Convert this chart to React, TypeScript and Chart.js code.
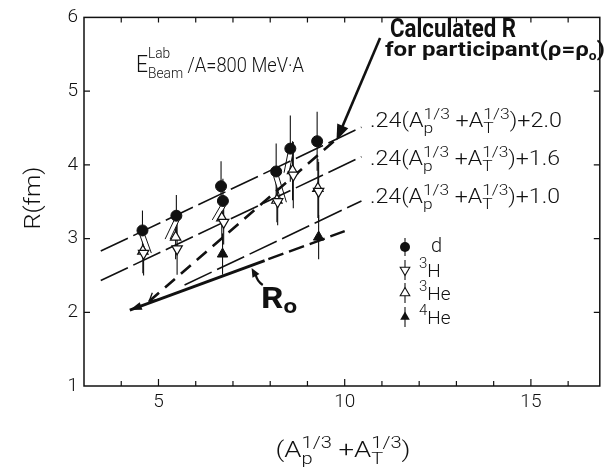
import React, { useEffect, useRef } from "react";
import { Chart, registerables } from "chart.js";

Chart.register(...registerables);

// ---- axes ----
const xMin = 3;
const xMax = 16.85;
const yMin = 1;
const yMax = 6;
const xTickLabels = [5, 10, 15];
const yTickLabels = [1, 2, 3, 4, 5, 6];
const xMinorTicks = [4, 5, 6, 7, 8, 9, 10, 11, 12, 13, 14, 15, 16];
const yMinorTicks = [2, 3, 4, 5];

// ---- data: d ----
const dX = [4.57, 5.48, 6.68, 6.73, 8.16, 8.54, 9.26];
const dY = [3.11, 3.31, 3.71, 3.51, 3.91, 4.22, 4.32];
const dErr = [0.27, 0.28, 0.34, 0.3, 0.38, 0.45, 0.4];

// ---- data: 3H ----
const h3X = [4.6, 5.5, 6.75, 8.2, 8.62, 9.3];
const h3Y = [2.8, 2.86, 3.22, 3.5, 3.86, 3.64];
const h3Err = [0.3, 0.35, 0.3, 0.32, 0.45, 0.4];

// ---- data: 3He ----
const he3X = [4.58, 5.46, 6.7, 8.18, 8.6, 9.28];
const he3Y = [2.83, 3.02, 3.28, 3.52, 3.92, 3.68];
const he3Err = [0.3, 0.3, 0.3, 0.3, 0.4, 0.4];

// ---- data: 4He ----
const he4X = [6.72, 9.3];
const he4Y = [2.79, 3.02];
const he4Err = [0.28, 0.3];

// ---- offset connectors (d point index -> 3He point index, lateral shift) ----
const connFrom = [0, 1, 3, 4, 5];
const connTo = [0, 1, 2, 3, 4];
const connShift = [6, -8, -7, 7, -6];

// ---- lines ----
const fit20X = [3.45, 10.45];
const fit20Y = [2.83, 4.51];
const fit16X = [3.45, 10.45];
const fit16Y = [2.43, 4.11];
const fit10X = [5.7, 10.45];
const fit10Y = [2.37, 3.51];
const calcX = [4.75, 9.85];
const calcY = [2.15, 4.38];
const r0X = [4.23, 7.85];
const r0Y = [2.03, 2.7];
const r0TailX = [7.95, 10.0];
const r0TailY = [2.72, 3.1];

const FONT = 'Roboto, "DejaVu Sans", sans-serif';
const W = "300";
const INK = "#111";

const pts = (xs: number[], ys: number[]) => xs.map((x, i) => ({ x, y: ys[i] }));

type Seg = { t: string; size: number; dy?: number; bold?: boolean; stack?: boolean };

function fontOf(s: Seg) {
  return `${s.bold ? "bold" : W} ${s.size}px ${FONT}`;
}

function drawRich(
  ctx: CanvasRenderingContext2D,
  segs: Seg[],
  x: number,
  y: number,
  width?: number,
  align: "left" | "center" = "left"
) {
  const ws: number[] = [];
  let total = 0;
  let pending = 0;
  segs.forEach((s) => {
    ctx.font = fontOf(s);
    const w = ctx.measureText(s.t).width;
    ws.push(w);
    if (s.stack) {
      pending = Math.max(pending, w);
    } else {
      total += Math.max(pending, w);
      pending = 0;
    }
  });
  total += pending;
  const sx = width ? width / total : 1;
  ctx.save();
  const startX = align === "center" ? x - (total * sx) / 2 : x;
  ctx.translate(startX, y);
  ctx.scale(sx, 1);
  ctx.textAlign = "left";
  ctx.textBaseline = "alphabetic";
  let cx = 0;
  let stackW = 0;
  segs.forEach((s, i) => {
    ctx.font = fontOf(s);
    ctx.fillText(s.t, cx, s.dy || 0);
    if (s.stack) {
      stackW = Math.max(stackW, ws[i]);
    } else {
      cx += Math.max(stackW, ws[i]);
      stackW = 0;
    }
  });
  ctx.restore();
}

function arrowHead(ctx: CanvasRenderingContext2D, tipX: number, tipY: number, fromX: number, fromY: number, len: number, half: number) {
  const ang = Math.atan2(tipY - fromY, tipX - fromX);
  ctx.beginPath();
  ctx.moveTo(tipX, tipY);
  ctx.lineTo(tipX - len * Math.cos(ang) + half * Math.sin(ang), tipY - len * Math.sin(ang) - half * Math.cos(ang));
  ctx.lineTo(tipX - len * Math.cos(ang) - half * Math.sin(ang), tipY - len * Math.sin(ang) + half * Math.cos(ang));
  ctx.closePath();
  ctx.fill();
}

const errorBars = {
  id: "errorBars",
  beforeDatasetsDraw(chart: any) {
    const { ctx, scales } = chart;
    const xs = scales.x;
    const ys = scales.y;
    ctx.save();
    ctx.strokeStyle = INK;
    ctx.lineWidth = 1.1;
    const groups: [number[], number[], number[]][] = [
      [dX, dY, dErr],
      [h3X, h3Y, h3Err],
      [he3X, he3Y, he3Err],
      [he4X, he4Y, he4Err],
    ];
    groups.forEach(([gx, gy, ge]) => {
      gx.forEach((v, i) => {
        const px = xs.getPixelForValue(v);
        ctx.beginPath();
        ctx.moveTo(px, ys.getPixelForValue(gy[i] + ge[i]));
        ctx.lineTo(px, ys.getPixelForValue(gy[i] - ge[i]));
        ctx.stroke();
      });
    });
    // offset connectors: narrow white ribbons joining shifted points
    ctx.lineWidth = 1;
    connFrom.forEach((di, k) => {
      const ti = connTo[k];
      const sh = connShift[k];
      const x1 = xs.getPixelForValue(dX[di]);
      const y1 = ys.getPixelForValue(dY[di]) + 5;
      const x2 = xs.getPixelForValue(he3X[ti]) + sh;
      const y2 = ys.getPixelForValue(he3Y[ti]) + 2;
      const w = 2.5;
      ctx.beginPath();
      ctx.moveTo(x1 - w, y1);
      ctx.lineTo(x2 - w, y2);
      ctx.lineTo(x2 + w, y2);
      ctx.lineTo(x1 + w, y1);
      ctx.closePath();
      ctx.fillStyle = "#fff";
      ctx.fill();
      ctx.beginPath();
      ctx.moveTo(x1 - w, y1);
      ctx.lineTo(x2 - w, y2);
      ctx.moveTo(x1 + w, y1);
      ctx.lineTo(x2 + w, y2);
      ctx.stroke();
    });
    ctx.restore();
  },
};

const decorations = {
  id: "decorations",
  afterDraw(chart: any) {
    const { ctx, chartArea: a, scales } = chart;
    const xs = scales.x;
    const ys = scales.y;
    ctx.save();
    // frame
    ctx.strokeStyle = INK;
    ctx.lineWidth = 1.5;
    ctx.strokeRect(a.left, a.top, a.right - a.left, a.bottom - a.top);
    ctx.lineWidth = 1.2;
    xMinorTicks.forEach((v) => {
      const px = xs.getPixelForValue(v);
      const major = v % 5 === 0;
      ctx.beginPath();
      ctx.moveTo(px, a.top);
      ctx.lineTo(px, a.top + 5);
      ctx.moveTo(px, a.bottom);
      ctx.lineTo(px, a.bottom - (major ? 7 : 5));
      ctx.stroke();
    });
    yMinorTicks.forEach((v) => {
      const py = ys.getPixelForValue(v);
      ctx.beginPath();
      ctx.moveTo(a.left, py);
      ctx.lineTo(a.left + 6, py);
      ctx.moveTo(a.right, py);
      ctx.lineTo(a.right - 6, py);
      ctx.stroke();
    });

    ctx.fillStyle = INK;
    ctx.strokeStyle = INK;

    // R0 left arrowhead (filled)
    {
      const tx = xs.getPixelForValue(r0X[0]);
      const ty = ys.getPixelForValue(r0Y[0]);
      const fx = xs.getPixelForValue(r0X[1]);
      const fy = ys.getPixelForValue(r0Y[1]);
      arrowHead(ctx, tx, ty, fx, fy, 12, 4);
    }
    // calculated R left open arrowhead
    {
      const tx = xs.getPixelForValue(calcX[0]);
      const ty = ys.getPixelForValue(calcY[0]);
      const fx = xs.getPixelForValue(calcX[1]);
      const fy = ys.getPixelForValue(calcY[1]);
      const ang = Math.atan2(ty - fy, tx - fx);
      ctx.lineWidth = 1.3;
      ctx.beginPath();
      ctx.moveTo(tx - 9 * Math.cos(ang - 0.5), ty - 9 * Math.sin(ang - 0.5));
      ctx.lineTo(tx, ty);
      ctx.lineTo(tx - 9 * Math.cos(ang + 0.5), ty - 9 * Math.sin(ang + 0.5));
      ctx.stroke();
    }
    // Calculated R annotation arrow
    {
      const sx = xs.getPixelForValue(10.95);
      const sy = ys.getPixelForValue(5.72);
      const tx = xs.getPixelForValue(9.78);
      const ty = ys.getPixelForValue(4.33);
      ctx.lineWidth = 2.6;
      ctx.beginPath();
      ctx.moveTo(sx, sy);
      ctx.lineTo(tx + (sx - tx) * 0.1, ty + (sy - ty) * 0.1);
      ctx.stroke();
      arrowHead(ctx, tx, ty, sx, sy, 16, 6);
    }
    // R0 annotation arrow
    {
      const sx = xs.getPixelForValue(7.8);
      const sy = ys.getPixelForValue(2.37);
      const tx = xs.getPixelForValue(7.5);
      const ty = ys.getPixelForValue(2.6);
      ctx.lineWidth = 2.2;
      ctx.beginPath();
      ctx.moveTo(sx, sy);
      ctx.quadraticCurveTo(sx - 6, sy - 4, tx + 4, ty + 6);
      ctx.stroke();
      arrowHead(ctx, tx, ty, tx + 5, ty + 9, 9, 4);
    }

    // texts
    ctx.fillStyle = INK;
    // E label
    drawRich(
      ctx,
      [
        { t: "E", size: 23 },
        { t: "Beam", size: 15, dy: 6, stack: true },
        { t: "Lab", size: 15, dy: -14 },
        { t: " /A=800 MeV·A", size: 20 },
      ],
      136,
      72,
      168
    );
    // Calculated R
    drawRich(ctx, [{ t: "Calculated R", size: 26, bold: true }], 390, 37, 126);
    drawRich(
      ctx,
      [
        { t: "for participant(ρ=ρ", size: 21, bold: true },
        { t: "o", size: 12, dy: 4, bold: true },
        { t: ")", size: 21, bold: true },
      ],
      385,
      56,
      220
    );
    // formulas
    const formula = (c: string): Seg[] => [
      { t: ".24(A", size: 20 },
      { t: "p", size: 15, dy: 6, stack: true },
      { t: "1/3", size: 15, dy: -8 },
      { t: " +A", size: 20 },
      { t: "T", size: 15, dy: 6, stack: true },
      { t: "1/3", size: 15, dy: -8 },
      { t: ")+" + c, size: 20 },
    ];
    drawRich(ctx, formula("2.0"), 370, 127, 192);
    drawRich(ctx, formula("1.6"), 370, 165, 190);
    drawRich(ctx, formula("1.0"), 370, 203, 190);

    // legend
    const lx = 405;
    const rows = [247, 270, 293, 317];
    ctx.lineWidth = 1.1;
    ctx.beginPath();
    ctx.arc(lx, rows[0], 5, 0, Math.PI * 2);
    ctx.fill();
    ctx.beginPath();
    ctx.moveTo(lx, rows[0] - 9);
    ctx.lineTo(lx, rows[0] + 9);
    ctx.stroke();
    const tri = (cy: number, up: boolean, filled: boolean) => {
      const r = 5.5;
      ctx.beginPath();
      ctx.moveTo(lx, cy - 10);
      ctx.lineTo(lx, cy + 10);
      ctx.stroke();
      ctx.beginPath();
      if (up) {
        ctx.moveTo(lx, cy - r);
        ctx.lineTo(lx + r * 0.87, cy + r * 0.5);
        ctx.lineTo(lx - r * 0.87, cy + r * 0.5);
      } else {
        ctx.moveTo(lx, cy + r);
        ctx.lineTo(lx + r * 0.87, cy - r * 0.5);
        ctx.lineTo(lx - r * 0.87, cy - r * 0.5);
      }
      ctx.closePath();
      if (filled) {
        ctx.fill();
      } else {
        ctx.save();
        ctx.fillStyle = "#fff";
        ctx.fill();
        ctx.restore();
        ctx.stroke();
      }
    };
    tri(rows[1], false, false);
    tri(rows[2], true, false);
    tri(rows[3], true, true);
    drawRich(ctx, [{ t: "d", size: 20 }], 431, rows[0] + 5);
    drawRich(ctx, [{ t: "3", size: 15, dy: -6 }, { t: "H", size: 19, dy: 3 }], 419, rows[1] + 4);
    drawRich(ctx, [{ t: "3", size: 15, dy: -6 }, { t: "He", size: 19, dy: 3 }], 419, rows[2] + 4);
    drawRich(ctx, [{ t: "4", size: 15, dy: -6 }, { t: "He", size: 19, dy: 3 }], 419, rows[3] + 4);

    // R0 label
    drawRich(
      ctx,
      [
        { t: "R", size: 29, bold: true },
        { t: "o", size: 20, dy: 5, bold: true },
      ],
      261,
      308,
      36
    );

    // axis titles
    ctx.save();
    ctx.translate(33, 198);
    ctx.rotate(-Math.PI / 2);
    drawRich(ctx, [{ t: "R(fm)", size: 22 }], 0, 7, 63, "center");
    ctx.restore();
    drawRich(
      ctx,
      [
        { t: "(A", size: 22 },
        { t: "p", size: 16, dy: 7, stack: true },
        { t: "1/3", size: 16, dy: -9 },
        { t: " +A", size: 22 },
        { t: "T", size: 16, dy: 7, stack: true },
        { t: "1/3", size: 16, dy: -9 },
        { t: ")", size: 22 },
      ],
      343,
      457,
      135,
      "center"
    );
    ctx.restore();
  },
};

export default function App() {
  const ref = useRef<HTMLCanvasElement | null>(null);
  useEffect(() => {
    if (!ref.current) return;
    const lineDs = (xs: number[], ys: number[], width: number, dash: number[]) => ({
      data: pts(xs, ys),
      showLine: true,
      borderColor: INK,
      borderWidth: width,
      borderDash: dash,
      pointRadius: 0,
      fill: false,
    });
    const chart = new Chart(ref.current, {
      type: "scatter",
      data: {
        datasets: [
          {
            label: "d",
            data: pts(dX, dY),
            pointStyle: "circle",
            pointRadius: 5.5,
            backgroundColor: INK,
            borderColor: INK,
            borderWidth: 1,
          },
          {
            label: "3H",
            data: pts(h3X, h3Y),
            pointStyle: "triangle",
            rotation: 180,
            pointRadius: 6,
            backgroundColor: "#fff",
            borderColor: INK,
            borderWidth: 1.2,
          },
          {
            label: "3He",
            data: pts(he3X, he3Y),
            pointStyle: "triangle",
            pointRadius: 6,
            backgroundColor: "#fff",
            borderColor: INK,
            borderWidth: 1.2,
          },
          {
            label: "4He",
            data: pts(he4X, he4Y),
            pointStyle: "triangle",
            pointRadius: 6,
            backgroundColor: INK,
            borderColor: INK,
            borderWidth: 1,
          },
          { label: "fit2.0", ...lineDs(fit20X, fit20Y, 1.6, [30, 6]) },
          { label: "fit1.6", ...lineDs(fit16X, fit16Y, 1.6, [30, 6]) },
          { label: "fit1.0", ...lineDs(fit10X, fit10Y, 1.6, [30, 6]) },
          { label: "calc", ...lineDs(calcX, calcY, 2.6, [13, 8]) },
          { label: "R0", ...lineDs(r0X, r0Y, 3, []) },
          { label: "R0tail", ...lineDs(r0TailX, r0TailY, 2.4, [16, 6]) },
        ] as any,
      },
      options: {
        animation: false,
        responsive: false,
        layout: { padding: { left: 0, right: 2, top: 12, bottom: 0 } },
        plugins: { legend: { display: false }, tooltip: { enabled: false } },
        scales: {
          x: {
            type: "linear",
            min: xMin,
            max: xMax,
            afterBuildTicks: (s: any) => {
              s.ticks = xTickLabels.map((v) => ({ value: v }));
            },
            afterFit: (s: any) => {
              s.height = 83;
            },
            grid: { display: false, drawTicks: false },
            border: { display: false },
            ticks: {
              padding: 5,
              color: INK,
              font: { family: FONT, size: 19, weight: W as any },
              callback: (v: any) => String(v),
            },
          },
          y: {
            type: "linear",
            min: yMin,
            max: yMax,
            afterBuildTicks: (s: any) => {
              s.ticks = yTickLabels.map((v) => ({ value: v }));
            },
            afterFit: (s: any) => {
              s.width = 84;
            },
            grid: { display: false, drawTicks: false },
            border: { display: false },
            ticks: {
              padding: 6,
              color: INK,
              font: { family: FONT, size: 19, weight: W as any },
              callback: (v: any) => String(v),
            },
          },
        },
      },
      plugins: [errorBars, decorations],
    });
    return () => chart.destroy();
  }, []);
  return (
    <div style={{ position: "absolute", left: 0, top: 0, width: 607, height: 469, background: "#fff" }}>
      <canvas ref={ref} width={607} height={469} style={{ display: "block" }} />
    </div>
  );
}
